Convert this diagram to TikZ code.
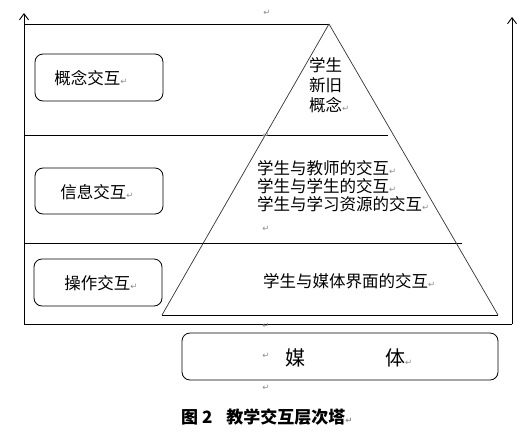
\documentclass[tikz,border=0pt]{standalone}
\usepackage{fontspec}
\newfontfamily\cjk{Noto Sans CJK SC}
\newfontfamily\symfont{DejaVu Sans}
\usetikzlibrary{arrows.meta}
\newcommand{\rmk}{{\symfont\fontsize{8.5}{9}\selectfont\color{black!45}↵}}
\begin{document}
\begin{tikzpicture}[x=1pt,y=-1pt,
  ax/.style={line width=0.9pt, -{Straight Barb[length=6pt,width=9pt]}},
  hl/.style={line width=0.9pt},
  tri/.style={line width=0.7pt, draw=black!80},
  lbox/.style={draw, line width=0.8pt, rounded corners=8pt, minimum width=128pt, minimum height=47pt, inner sep=0pt},
  txt/.style={font=\cjk\fontsize{16.5}{18}\selectfont, inner sep=0pt},
  big/.style={font=\cjk\fontsize{20}{22}\selectfont, inner sep=0pt},
  captext/.style={font=\cjk\bfseries\fontsize{17}{18}\selectfont, inner sep=0pt},
  ret/.style={inner sep=0pt}
]
\useasboundingbox (0,0) rectangle (524,434);
% frame coordinates
\coordinate (L0) at (24,324); \coordinate (L1) at (24,13);
\coordinate (R0) at (512,324); \coordinate (R1) at (512,17);
\coordinate (apex) at (329,24);
\coordinate (bl) at (162,315); \coordinate (br) at (498,315);
\coordinate (h1a) at (24,24);
\coordinate (h2a) at (24,135); \coordinate (h2b) at (388,135);
\coordinate (h3a) at (24,243); \coordinate (h3b) at (462,243);
% axes and level lines
\draw[ax] (L0) -- (L1);
\draw[ax] (R0) -- (R1);
\draw[hl] (L0) -- (R0);
\draw[hl] (h1a) -- (apex);
\draw[hl] (h2a) -- (h2b);
\draw[hl] (h3a) -- (h3b);
% pyramid
\draw[tri] (apex) -- (bl);
\draw[tri] (apex) -- (br);
\draw[hl] (bl) -- (br);
% level boxes
\node[lbox] (b1) at (99,77.5) {};
\node[lbox, minimum height=46pt] (b2) at (99,191) {};
\node[lbox] (b3) at (98,282.5) {};
\node[lbox, minimum width=316pt] (b4) at (340,356.5) {};
\node[txt] (t1) at (91,78) {概念交互\rmk};
\node[txt] (t2) at (97,192) {信息交互\rmk};
\node[txt] (t3) at (101,283) {操作交互\rmk};
% pyramid texts
\node[txt, anchor=west, align=left, font=\cjk\fontsize{16.5}{20}\selectfont] (p1) at (309,85) {学生\\新旧\\概念\rmk};
\node[txt, anchor=west, align=left, font=\cjk\fontsize{16.5}{18}\selectfont] (p2) at (257,186) {学生与教师的交互\rmk\\学生与学生的交互\rmk\\学生与学习资源的交互\rmk};
\node[txt, anchor=west] (p3) at (263,281) {学生与媒体界面的交互\rmk};
% media
\node[big] (m1) at (295,358) {媒};
\node[big, anchor=west] (m2) at (385,358) {体\rmk};
% caption
\node[captext, anchor=west] (c) at (181,417) {图 2\hspace{14pt}教学交互层次塔\rmk};
% stray paragraph marks
\node[ret] (r1) at (267,13) {\rmk};
\node[ret] (r2) at (266,136) {\rmk};
\node[ret] (r3) at (266,229) {\rmk};
\node[ret] (r4) at (266,326) {\rmk};
\node[ret] (r5) at (266,356) {\rmk};
\node[ret] (r6) at (266,388) {\rmk};
\end{tikzpicture}
\end{document}
